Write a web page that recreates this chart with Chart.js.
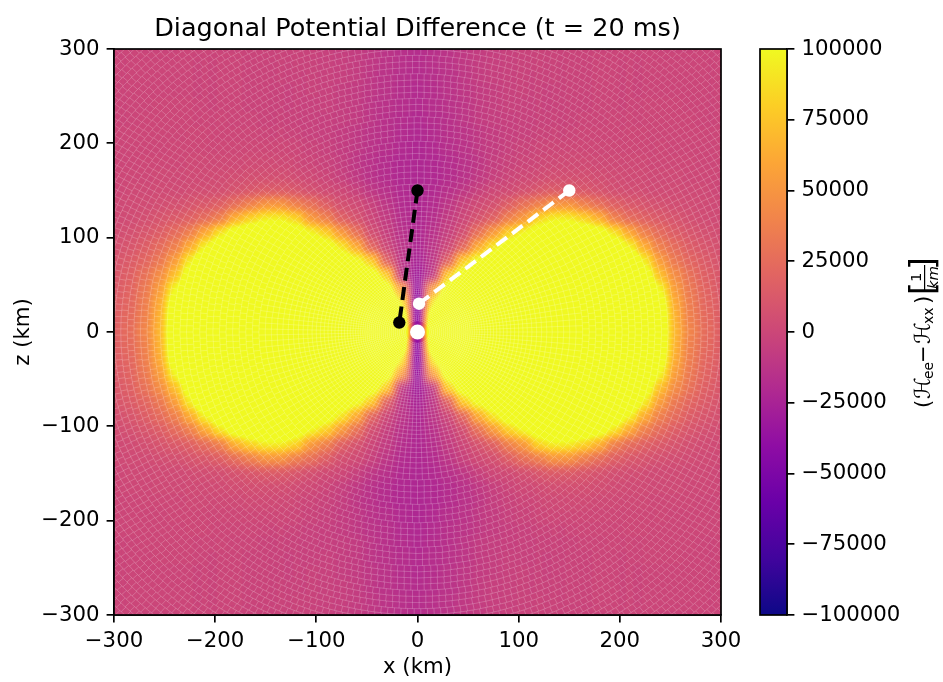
<!DOCTYPE html>
<html>
<head>
<meta charset="utf-8">
<title>Diagonal Potential Difference</title>
<script src="https://cdn.jsdelivr.net/npm/chart.js@4"></script>
<style>
html, body { margin: 0; padding: 0; background: #fff; }
#wrap { position: relative; width: 943px; height: 682px; }
#mainChart { position: absolute; left: 0; top: 0; }
#barChart { position: absolute; left: 721px; top: 0; }
</style>
</head>
<body>
<div id="wrap">
<canvas id="mainChart" width="943" height="682"></canvas>
<canvas id="barChart" width="222" height="682"></canvas>
</div>
<script>
// grid centres in km, rows run from z = 300 down to z = -300
const cellXs = [-300,-285,-270,-255,-240,-225,-210,-195,-180,-165,-150,-135,-120,-105,-90,-75,-60,-45,-30,-15,0,15,30,45,60,75,90,105,120,135,150,165,180,195,210,225,240,255,270,285,300];
const cellZs = [300,285,270,255,240,225,210,195,180,165,150,135,120,105,90,75,60,45,30,15,0,-15,-30,-45,-60,-75,-90,-105,-120,-135,-150,-165,-180,-195,-210,-225,-240,-255,-270,-285,-300];

// potential difference, in thousands.
// above 100 the colour bar saturates, so those cells are rough guesses
const potentialK = [
[-1,-1,-1,-1,-1,-1,-1,-1,-1,-2,-2,-2,-2,-3,-4,-5,-7,-9,-12,-15,-17,-15,-12,-9,-7,-5,-4,-3,-2,-2,-2,-2,-1,-1,-1,-1,-1,-1,-1,-1,-1],
[-1,-1,-1,-1,-1,-1,-1,-1,-1,-2,-2,-2,-2,-3,-4,-5,-7,-9,-12,-15,-17,-15,-12,-9,-7,-5,-4,-3,-2,-2,-2,-2,-1,-1,-1,-1,-1,-1,-1,-1,-1],
[-1,-1,-1,-1,-1,-1,-1,-1,-1,-2,-2,-2,-3,-3,-4,-5,-7,-10,-13,-16,-18,-16,-13,-10,-7,-5,-4,-3,-3,-2,-2,-2,-1,-1,-1,-1,-1,-1,-1,-1,-1],
[-1,-1,-1,-1,-1,-1,-1,-1,-1,-2,-2,-3,-3,-3,-4,-6,-8,-10,-13,-17,-19,-17,-13,-10,-8,-6,-4,-3,-3,-3,-2,-2,-1,-1,-1,-1,-1,-1,-1,-1,-1],
[-1,-1,-1,0,0,0,-1,-1,-1,-2,-2,-3,-3,-4,-4,-6,-8,-11,-14,-17,-19,-17,-14,-11,-8,-6,-4,-4,-3,-3,-2,-2,-1,-1,-1,0,0,0,-1,-1,-1],
[-1,-1,0,0,0,0,0,0,-1,-1,-2,-2,-3,-4,-5,-6,-8,-11,-15,-18,-20,-18,-15,-11,-8,-6,-5,-4,-3,-2,-2,-1,-1,0,0,0,0,0,0,-1,-1],
[0,0,0,0,0,1,1,0,0,0,-1,-1,-2,-4,-5,-7,-9,-12,-15,-19,-21,-19,-15,-12,-9,-7,-5,-4,-2,-1,-1,0,0,0,1,1,0,0,0,0,0],
[0,0,0,0,1,1,1,1,1,1,1,1,0,-2,-4,-7,-9,-13,-16,-20,-22,-20,-16,-13,-9,-7,-4,-2,0,1,1,1,1,1,1,1,1,0,0,0,0],
[0,0,1,1,1,2,2,2,2,3,3,2,1,-1,-3,-6,-10,-14,-18,-21,-22,-21,-18,-14,-10,-6,-3,-1,1,2,3,3,2,2,2,2,1,1,1,0,0],
[1,1,1,2,2,3,3,4,5,6,6,6,4,2,-1,-5,-9,-14,-18,-21,-22,-21,-18,-14,-9,-5,-1,2,4,6,6,6,5,4,3,3,2,2,1,1,1],
[1,2,2,3,3,4,5,6,8,11,14,14,11,7,3,1,-4,-10,-15,-20,-22,-20,-15,-10,-4,1,3,7,11,14,14,11,8,6,5,4,3,3,2,2,1],
[2,3,4,5,7,9,12,17,26,38,50,50,38,28,16,7,3,-3,-11,-19,-22,-19,-11,-3,3,7,16,28,38,50,50,38,26,17,12,9,7,5,4,3,2],
[3,4,6,9,13,18,25,38,65,82,93,93,82,53,38,18,8,0,-8,-17,-22,-17,-8,0,8,18,38,53,82,93,93,82,65,38,25,18,13,9,6,4,3],
[5,7,10,15,24,38,60,88,112,125,138,135,118,97,80,53,28,6,-5,-15,-22,-15,-5,6,28,53,80,97,118,135,138,125,112,88,60,38,24,15,10,7,5],
[7,10,15,24,38,62,95,125,150,160,160,160,160,139,115,90,62,22,0,-12,-23,-12,0,22,62,90,115,139,160,160,160,160,150,125,95,62,38,24,15,10,7],
[9,14,21,33,55,92,135,160,160,160,160,160,160,160,150,124,103,78,18,-12,-25,-12,18,78,103,124,150,160,160,160,160,160,160,160,135,92,55,33,21,14,9],
[11,17,28,45,72,115,150,160,160,160,160,160,160,160,160,158,136,112,78,-10,-30,-10,78,112,136,158,160,160,160,160,160,160,160,160,150,115,72,45,28,17,11],
[13,20,33,55,98,146,160,160,160,160,160,160,160,160,160,160,160,160,112,55,-40,55,112,160,160,160,160,160,160,160,160,160,160,160,160,146,98,55,33,20,13],
[15,22,36,62,115,160,160,160,160,160,160,160,160,160,160,160,160,160,142,93,-48,93,142,160,160,160,160,160,160,160,160,160,160,160,160,160,115,62,36,22,15],
[16,24,38,66,125,160,160,160,160,160,160,160,160,160,160,160,160,160,160,133,-50,133,160,160,160,160,160,160,160,160,160,160,160,160,160,160,125,66,38,24,16],
[17,25,40,68,125,160,160,160,160,160,160,160,160,160,160,160,160,160,160,160,-50,160,160,160,160,160,160,160,160,160,160,160,160,160,160,160,125,68,40,25,17],
[16,24,38,66,125,160,160,160,160,160,160,160,160,160,160,160,160,160,160,133,-50,133,160,160,160,160,160,160,160,160,160,160,160,160,160,160,125,66,38,24,16],
[15,22,36,62,115,160,160,160,160,160,160,160,160,160,160,160,160,160,142,93,-48,93,142,160,160,160,160,160,160,160,160,160,160,160,160,160,115,62,36,22,15],
[13,20,33,55,98,146,160,160,160,160,160,160,160,160,160,160,160,160,112,55,-40,55,112,160,160,160,160,160,160,160,160,160,160,160,160,146,98,55,33,20,13],
[11,17,28,45,72,115,150,160,160,160,160,160,160,160,160,158,136,112,78,-10,-30,-10,78,112,136,158,160,160,160,160,160,160,160,160,150,115,72,45,28,17,11],
[9,14,21,33,55,92,135,160,160,160,160,160,160,160,150,124,103,78,18,-12,-25,-12,18,78,103,124,150,160,160,160,160,160,160,160,135,92,55,33,21,14,9],
[7,10,15,24,38,62,95,125,150,160,160,160,160,139,115,90,62,22,0,-12,-23,-12,0,22,62,90,115,139,160,160,160,160,150,125,95,62,38,24,15,10,7],
[5,7,10,15,24,38,60,88,112,125,138,135,118,97,80,53,28,6,-5,-15,-22,-15,-5,6,28,53,80,97,118,135,138,125,112,88,60,38,24,15,10,7,5],
[3,4,6,9,13,18,25,38,65,82,93,93,82,53,38,18,8,0,-8,-17,-22,-17,-8,0,8,18,38,53,82,93,93,82,65,38,25,18,13,9,6,4,3],
[2,3,4,5,7,9,12,17,26,38,50,50,38,28,16,7,3,-3,-11,-19,-22,-19,-11,-3,3,7,16,28,38,50,50,38,26,17,12,9,7,5,4,3,2],
[1,2,2,3,3,4,5,6,8,11,14,14,11,7,3,1,-4,-10,-15,-20,-22,-20,-15,-10,-4,1,3,7,11,14,14,11,8,6,5,4,3,3,2,2,1],
[1,1,1,2,2,3,3,4,5,6,6,6,4,2,-1,-5,-9,-14,-18,-21,-22,-21,-18,-14,-9,-5,-1,2,4,6,6,6,5,4,3,3,2,2,1,1,1],
[0,0,1,1,1,2,2,2,2,3,3,2,1,-1,-3,-6,-10,-14,-18,-21,-22,-21,-18,-14,-10,-6,-3,-1,1,2,3,3,2,2,2,2,1,1,1,0,0],
[0,0,0,0,1,1,1,1,1,1,1,1,0,-2,-4,-7,-9,-13,-16,-20,-22,-20,-16,-13,-9,-7,-4,-2,0,1,1,1,1,1,1,1,1,0,0,0,0],
[0,0,0,0,0,1,1,0,0,0,-1,-1,-2,-4,-5,-7,-9,-12,-15,-19,-21,-19,-15,-12,-9,-7,-5,-4,-2,-1,-1,0,0,0,1,1,0,0,0,0,0],
[-1,-1,0,0,0,0,0,0,-1,-1,-2,-2,-3,-4,-5,-6,-8,-11,-15,-18,-20,-18,-15,-11,-8,-6,-5,-4,-3,-2,-2,-1,-1,0,0,0,0,0,0,-1,-1],
[-1,-1,-1,0,0,0,-1,-1,-1,-2,-2,-3,-3,-4,-4,-6,-8,-11,-14,-17,-19,-17,-14,-11,-8,-6,-4,-4,-3,-3,-2,-2,-1,-1,-1,0,0,0,-1,-1,-1],
[-1,-1,-1,-1,-1,-1,-1,-1,-1,-2,-2,-3,-3,-3,-4,-6,-8,-10,-13,-17,-19,-17,-13,-10,-8,-6,-4,-3,-3,-3,-2,-2,-1,-1,-1,-1,-1,-1,-1,-1,-1],
[-1,-1,-1,-1,-1,-1,-1,-1,-1,-2,-2,-2,-3,-3,-4,-5,-7,-10,-13,-16,-18,-16,-13,-10,-7,-5,-4,-3,-3,-2,-2,-2,-1,-1,-1,-1,-1,-1,-1,-1,-1],
[-1,-1,-1,-1,-1,-1,-1,-1,-1,-2,-2,-2,-2,-3,-4,-5,-7,-9,-12,-15,-17,-15,-12,-9,-7,-5,-4,-3,-2,-2,-2,-2,-1,-1,-1,-1,-1,-1,-1,-1,-1],
[-1,-1,-1,-1,-1,-1,-1,-1,-1,-2,-2,-2,-2,-3,-4,-5,-7,-9,-12,-15,-17,-15,-12,-9,-7,-5,-4,-3,-2,-2,-2,-2,-1,-1,-1,-1,-1,-1,-1,-1,-1]
];

const blackX = [0, -18];
const blackZ = [150, 10];
const whiteX = [150, 1.5];
const whiteZ = [150, 30];
const centreX = [0];
const centreZ = [0];

const xTicks = [-300,-200,-100,0,100,200,300];
const zTicks = [-300,-200,-100,0,100,200,300];
const barTicks = [-100000,-75000,-50000,-25000,0,25000,50000,75000,100000];

const plasmaStops = ['#0d0887','#41049d','#6a00a8','#8f0da4','#b12a90','#cc4778','#e16462','#f1844b','#fca636','#fcce25','#f0f921'];

const fontName = '"DejaVu Sans"';
const tickSize = 21.25;
const vMax = 100000;
// cells are painted as grey levels over this range, the colour map goes on after the softening
const greyMin = -80000;
const greyMax = 160000;

function hexToRgb(hex){
    return [1,3,5].map(i => parseInt(hex.substr(i,2),16));
}

function plasma(value){
    let t = (value + vMax) / (2*vMax);
    t = Math.min(1, Math.max(0, t)) * (plasmaStops.length-1);
    const i = Math.min(Math.floor(t), plasmaStops.length-2);
    const a = hexToRgb(plasmaStops[i]);
    const b = hexToRgb(plasmaStops[i+1]);
    const f = t - i;
    return a.map((c,k) => Math.round(c + (b[k]-c)*f));
}

function grey(value){
    const g = Math.round(255*(value - greyMin)/(greyMax - greyMin));
    return 'rgb(' + g + ',' + g + ',' + g + ')';
}

function minusSign(v){
    return String(v).replace('-', '\u2212');
}

function toPoints(xs, ys){
    return xs.map((x,i) => ({x: x, y: ys[i]}));
}

const cellPoints = [];
cellZs.forEach((z,row) => {
    cellXs.forEach((x,col) => {
        cellPoints.push({x: x, y: z, v: potentialK[row][col]*1000});
    });
});

const greyToColour = [];
for (let g = 0; g < 256; g++){
    greyToColour.push(plasma(greyMin + (greyMax-greyMin)*g/255));
}

const meshPlugin = {
    id: 'mesh',
    afterDatasetDraw(chart, args){
        if (args.index !== 0) return;
        const ctx = chart.ctx;
        const a = chart.chartArea;
        const sx = chart.scales.x;
        const sy = chart.scales.y;
        const left = Math.round(a.left);
        const top = Math.round(a.top);
        const w = Math.round(a.right) - left;
        const h = Math.round(a.bottom) - top;
        ctx.save();
        ctx.beginPath();
        ctx.rect(left, top, w, h);
        ctx.clip();
        ctx.filter = 'blur(4px)';
        ctx.drawImage(chart.canvas, left, top, w, h, left, top, w, h);
        ctx.filter = 'none';

        const img = ctx.getImageData(left, top, w, h);
        for (let i = 0; i < img.data.length; i += 4){
            const c = greyToColour[img.data[i]];
            img.data[i] = c[0];
            img.data[i+1] = c[1];
            img.data[i+2] = c[2];
            img.data[i+3] = 255;
        }
        ctx.putImageData(img, left, top);

        // seams of the polar mesh
        const ox = sx.getPixelForValue(0);
        const oy = sy.getPixelForValue(0);
        const kx = sx.getPixelForValue(1) - ox;
        const kz = oy - sy.getPixelForValue(1);
        ctx.strokeStyle = 'rgba(255,255,255,0.2)';
        ctx.lineWidth = 1;
        let r = 12;
        while (r < 430){
            const step = Math.min(6.5, Math.max(2, r/24));
            ctx.beginPath();
            ctx.ellipse(ox, oy, r*kx, r*kz, 0, 0, 2*Math.PI);
            ctx.stroke();
            const n = Math.round(2*Math.PI*r/step);
            ctx.beginPath();
            for (let i = 0; i < n; i++){
                const th = (i + (Math.round(r/step) % 2)*0.5)*2*Math.PI/n;
                ctx.moveTo(ox + r*kx*Math.cos(th), oy - r*kz*Math.sin(th));
                ctx.lineTo(ox + (r+step)*kx*Math.cos(th), oy - (r+step)*kz*Math.sin(th));
            }
            ctx.stroke();
            r += step;
        }
        ctx.restore();
    },
    afterDraw(chart){
        const ctx = chart.ctx;
        const a = chart.chartArea;
        ctx.save();
        ctx.strokeStyle = '#000';
        ctx.lineWidth = 1.7;
        ctx.strokeRect(a.left, a.top, a.right-a.left, a.bottom-a.top);
        ctx.restore();
    }
};

const markerLine = (xs, ys, colour, order) => ({
    data: toPoints(xs, ys),
    showLine: true,
    borderColor: colour,
    backgroundColor: colour,
    borderWidth: 4,
    borderDash: [13, 6.5],
    pointRadius: 6.2,
    pointBackgroundColor: colour,
    pointBorderWidth: 0,
    order: order
});

new Chart(document.getElementById('mainChart').getContext('2d'), {
    type: 'scatter',
    data: {
        datasets: [
            {
                data: cellPoints,
                pointStyle: 'rect',
                pointRadius: 11,
                pointBorderWidth: 0,
                pointBackgroundColor: c => grey(c.raw.v),
                order: 10
            },
            {
                data: toPoints(centreX, centreZ),
                pointRadius: 7.5,
                pointBackgroundColor: '#fff',
                pointBorderWidth: 0,
                order: 3
            },
            markerLine(blackX, blackZ, '#000', 2),
            markerLine(whiteX, whiteZ, '#fff', 1)
        ]
    },
    options: {
        responsive: false,
        animation: false,
        events: [],
        layout: { padding: { left: 0, right: 222, top: 0, bottom: 0 } },
        plugins: {
            legend: { display: false },
            tooltip: { enabled: false },
            title: {
                display: true,
                fullSize: false,
                text: 'Diagonal Potential Difference (t = 20 ms)',
                color: '#000',
                font: { family: fontName, size: 25.5, weight: 'normal', lineHeight: 1.2 },
                padding: { top: 14, bottom: 4.4 }
            }
        },
        scales: {
            x: {
                type: 'linear',
                min: -300,
                max: 300,
                afterFit(scale){ scale.height = 67; },
                afterBuildTicks(scale){ scale.ticks = xTicks.map(v => ({value: v})); },
                border: { display: true, color: '#000', width: 1.7 },
                grid: { drawOnChartArea: false, drawTicks: true, tickLength: 7.4, color: '#000', lineWidth: 1.7 },
                ticks: {
                    color: '#000',
                    padding: 6,
                    maxRotation: 0,
                    font: { family: fontName, size: tickSize },
                    callback: v => minusSign(v)
                },
                title: {
                    display: true,
                    text: 'x (km)',
                    color: '#000',
                    font: { family: fontName, size: tickSize },
                    padding: { top: 0, bottom: 2 }
                }
            },
            y: {
                type: 'linear',
                min: -300,
                max: 300,
                afterFit(scale){ scale.width = 114; },
                afterBuildTicks(scale){ scale.ticks = zTicks.map(v => ({value: v})); },
                border: { display: true, color: '#000', width: 1.7 },
                grid: { drawOnChartArea: false, drawTicks: true, tickLength: 7.4, color: '#000', lineWidth: 1.7 },
                ticks: {
                    color: '#000',
                    padding: 7,
                    font: { family: fontName, size: tickSize },
                    callback: v => minusSign(v)
                },
                title: {
                    display: true,
                    text: 'z (km)',
                    color: '#000',
                    font: { family: fontName, size: tickSize },
                    padding: { top: 11, bottom: 0 }
                }
            }
        }
    },
    plugins: [meshPlugin]
});

// colour bar, with its label written piece by piece because of the fraction
const barPlugin = {
    id: 'barFrame',
    afterDraw(chart){
        const ctx = chart.ctx;
        const a = chart.chartArea;
        ctx.save();
        ctx.strokeStyle = '#000';
        ctx.lineWidth = 1.7;
        ctx.strokeRect(a.left, a.top, a.right-a.left, a.bottom-a.top);

        ctx.translate(209, 408);
        ctx.rotate(-Math.PI/2);
        ctx.fillStyle = '#000';
        ctx.textBaseline = 'alphabetic';
        ctx.textAlign = 'left';
        const put = (text, size, u, shift, style) => {
            ctx.font = (style || '') + ' ' + size + 'px ' + fontName;
            ctx.fillText(text, u, shift);
        };
        put('(', 21.25, 0, 0);
        put('\u210B', 22, 9, 0);
        put('ee', 14, 29, 3);
        put('\u2212', 21.25, 45, 0);
        put('\u210B', 22, 64, 0);
        put('xx', 14, 84, 3);
        put(')', 21.25, 104, 0);
        put('[', 33, 113, 4);
        put('1', 14.9, 126, -9);
        put('km', 14.9, 119, 8, 'italic');
        ctx.fillRect(118, -6, 25, 1.2);
        put(']', 33, 138, 4);
        ctx.restore();
    }
};

new Chart(document.getElementById('barChart').getContext('2d'), {
    type: 'bar',
    data: {
        labels: ['range'],
        datasets: [{
            data: [[-vMax, vMax]],
            barPercentage: 1,
            categoryPercentage: 1,
            borderWidth: 0,
            backgroundColor(c){
                const a = c.chart.chartArea;
                if (!a) return '#000';
                const g = c.chart.ctx.createLinearGradient(0, a.bottom, 0, a.top);
                plasmaStops.forEach((s,i) => g.addColorStop(i/(plasmaStops.length-1), s));
                return g;
            }
        }]
    },
    options: {
        responsive: false,
        animation: false,
        events: [],
        layout: { padding: { left: 39, right: 0, top: 49, bottom: 67 } },
        plugins: { legend: { display: false }, tooltip: { enabled: false } },
        scales: {
            x: { display: false },
            y: {
                position: 'right',
                min: -vMax,
                max: vMax,
                afterFit(scale){ scale.width = 156; },
                afterBuildTicks(scale){ scale.ticks = barTicks.map(v => ({value: v})); },
                border: { display: true, color: '#000', width: 1.7 },
                grid: { drawOnChartArea: false, drawTicks: true, tickLength: 7.4, color: '#000', lineWidth: 1.7 },
                ticks: {
                    color: '#000',
                    padding: 7,
                    font: { family: fontName, size: tickSize },
                    callback: v => minusSign(v)
                }
            }
        }
    },
    plugins: [barPlugin]
});
</script>
</body>
</html>
